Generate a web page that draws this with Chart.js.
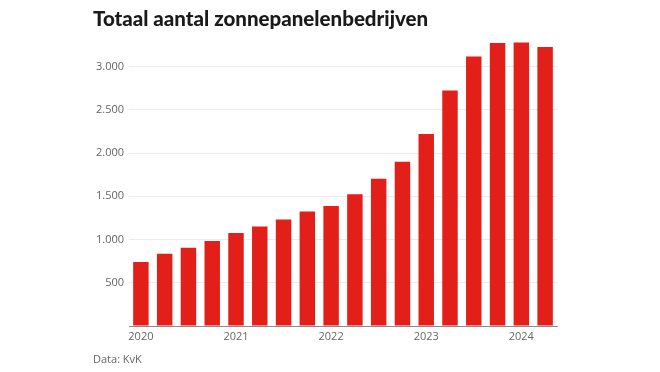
<!DOCTYPE html>
<html>
<head>
<meta charset="utf-8">
<script src="https://cdn.jsdelivr.net/npm/chart.js@4"></script>
<style>
  html, body { margin: 0; padding: 0; background: #fff; }
  #wrap { width: 660px; height: 372px; }
</style>
</head>
<body>
<div id="wrap"><canvas id="myChart"></canvas></div>
<script>
// kwartalen 2020 Q1 t/m 2024 Q2
const quarters = [
  "2020 Q1", "2020 Q2", "2020 Q3", "2020 Q4",
  "2021 Q1", "2021 Q2", "2021 Q3", "2021 Q4",
  "2022 Q1", "2022 Q2", "2022 Q3", "2022 Q4",
  "2023 Q1", "2023 Q2", "2023 Q3", "2023 Q4",
  "2024 Q1", "2024 Q2"
];
const companies = [
  740, 837, 906, 983, 1076, 1150, 1231, 1324, 1389,
  1524, 1702, 1899, 2220, 2722, 3116, 3271, 3278, 3225
];
const yearLabels = ["2020", "2021", "2022", "2023", "2024"];
const yTicks = [0, 500, 1000, 1500, 2000, 2500, 3000];

const ctx = document.getElementById("myChart");
const myChart = new Chart(ctx, {
  type: "bar",
  data: {
    labels: quarters,
    datasets: [
      {
        label: "Totaal aantal zonnepanelenbedrijven",
        data: companies,
        backgroundColor: "#e31f19",
        borderWidth: 0,
        barPercentage: 0.65,
        categoryPercentage: 1,
      },
    ],
  },
  options: {
    responsive: true,
    maintainAspectRatio: false,
    animation: false,
    layout: {
      padding: { left: 93, right: 103, top: 7, bottom: 6 },
    },
    plugins: {
      legend: { display: false },
      tooltip: { enabled: false },
      title: {
        display: true,
        text: "Totaal aantal zonnepanelenbedrijven",
        align: "start",
        color: "#1a1a1a",
        font: { family: "Lato", size: 20.5, weight: "900" },
        padding: { top: 0, bottom: 9 },
      },
      subtitle: {
        display: true,
        position: "bottom",
        text: "Data: KvK",
        align: "start",
        color: "#666",
        font: { family: "Open Sans", size: 11 },
        padding: { top: 5.5, bottom: 0 },
      },
    },
    scales: {
      x: {
        offset: true,
        grid: { display: false, drawTicks: false },
        border: { display: true, color: "#8a8a8a", width: 1 },
        ticks: {
          autoSkip: false,
          maxRotation: 0,
          padding: 4,
          color: "#666",
          font: { family: "Open Sans", size: 11 },
          callback: (value, index) =>
            index % 4 === 0 ? yearLabels[index / 4] : "",
        },
      },
      y: {
        min: 0,
        max: 3300,
        afterBuildTicks: (axis) => {
          axis.ticks = yTicks.map((v) => ({ value: v }));
        },
        afterFit: (axis) => {
          axis.width = 36;
        },
        grid: {
          drawTicks: false,
          color: (c) => (c.tick && c.tick.value === 0 ? "rgba(0,0,0,0)" : "#ececec"),
        },
        border: { display: false },
        ticks: {
          padding: 5,
          color: "#666",
          font: { family: "Open Sans", size: 11 },
          callback: (value) =>
            value === 0 ? "" : value.toLocaleString("nl-NL"),
        },
      },
    },
  },
});
</script>
</body>
</html>
